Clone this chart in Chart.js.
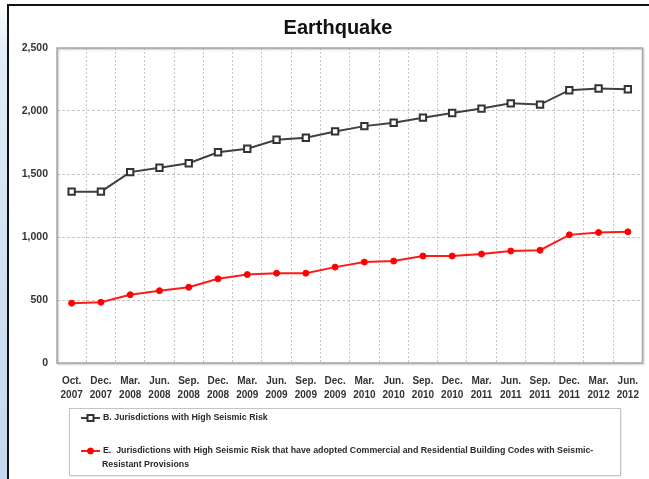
<!DOCTYPE html>
<html>
<head>
<meta charset="utf-8">
<title>Earthquake</title>
<script src="https://cdn.jsdelivr.net/npm/chart.js@4/dist/chart.umd.min.js"></script>
<style>
	html, body { margin: 0; padding: 0; background: #fff; }
	body { width: 649px; height: 479px; position: relative; overflow: hidden; }
	#strip { position: absolute; left: 0; top: 0; width: 8px; height: 479px;
		background: linear-gradient(to bottom, #ffffff 0%, #e3edf7 10%, #cfe0f1 60%, #c3d7ee 100%); }
	#frame { position: absolute; left: 7px; top: 4px; width: 642px; height: 475px;
		border-top: 2px solid #111; border-left: 2px solid #111; box-sizing: border-box; }
	#chart { position: absolute; left: 0; top: 0; }
</style>
</head>
<body>
<div id="strip"></div>
<div id="frame"></div>
<canvas id="chart" width="649" height="479"></canvas>
<script>
const chartTitle = "Earthquake";

const months = ["Oct.", "Dec.", "Mar.", "Jun.", "Sep.", "Dec.", "Mar.", "Jun.", "Sep.", "Dec.",
	"Mar.", "Jun.", "Sep.", "Dec.", "Mar.", "Jun.", "Sep.", "Dec.", "Mar.", "Jun."];
const years = ["2007", "2007", "2008", "2008", "2008", "2008", "2009", "2009", "2009", "2009",
	"2010", "2010", "2010", "2010", "2011", "2011", "2011", "2011", "2012", "2012"];

const highRisk = [1360, 1360, 1515, 1550, 1585, 1673, 1700, 1772, 1788, 1838,
	1880, 1907, 1947, 1984, 2019, 2061, 2051, 2165, 2179, 2173];
const withCodes = [475, 482, 542, 574, 601, 668, 702, 713, 713, 761,
	801, 809, 849, 849, 865, 889, 895, 1017, 1036, 1041];

const yTicks = [0, 500, 1000, 1500, 2000, 2500];

const labelHigh = "B. Jurisdictions with High Seismic Risk";
const labelCodes = "E.  Jurisdictions with High Seismic Risk that have adopted Commercial and Residential Building Codes with Seismic-Resistant Provisions";

Chart.defaults.font.family = "'Liberation Sans', Arial, sans-serif";

// title sits a little right of the canvas centre, as in the original
const titleText = {
	id: "titleText",
	afterDraw(chart) {
		const ctx = chart.ctx;
		ctx.save();
		ctx.font = "bold 20px 'Liberation Sans', Arial, sans-serif";
		ctx.fillStyle = "#111";
		ctx.textAlign = "center";
		ctx.textBaseline = "middle";
		ctx.fillText(chartTitle, 338, 28);
		ctx.restore();
	}
};

// solid frame round the plot area
const plotFrame = {
	id: "plotFrame",
	beforeDatasetsDraw(chart) {
		const { ctx, chartArea: a } = chart;
		ctx.save();
		ctx.shadowColor = "rgba(0,0,0,0.25)";
		ctx.shadowOffsetX = 1;
		ctx.shadowOffsetY = 1;
		ctx.shadowBlur = 2;
		ctx.strokeStyle = "#a9a9a9";
		ctx.lineWidth = 1.5;
		ctx.strokeRect(a.left, a.top, a.right - a.left, a.bottom - a.top);
		ctx.restore();
	}
};

// boxed legend under the axis, long labels wrapped
const boxLegend = {
	id: "boxLegend",
	afterDraw(chart) {
		const ctx = chart.ctx;
		const box = { x: 69, y: 408, w: 551, h: 67 };
		ctx.save();
		ctx.shadowColor = "rgba(0,0,0,0.2)";
		ctx.shadowOffsetX = 1;
		ctx.shadowOffsetY = 1;
		ctx.shadowBlur = 2;
		ctx.fillStyle = "#fff";
		ctx.fillRect(box.x, box.y, box.w, box.h);
		ctx.restore();
		ctx.save();
		ctx.strokeStyle = "#c4c4c4";
		ctx.lineWidth = 1;
		ctx.strokeRect(box.x + 0.5, box.y + 0.5, box.w, box.h);

		ctx.font = "bold 8.8px 'Liberation Sans', Arial, sans-serif";
		ctx.textBaseline = "middle";
		const rows = [418, 451];
		const textX = 103;
		const maxW = box.x + box.w - textX - 6;

		chart.data.datasets.forEach((ds, i) => {
			const y = rows[i];
			ctx.strokeStyle = ds.borderColor;
			ctx.lineWidth = 2;
			ctx.beginPath();
			ctx.moveTo(81, y);
			ctx.lineTo(100, y);
			ctx.stroke();
			ctx.fillStyle = ds.pointBackgroundColor;
			ctx.strokeStyle = ds.pointBorderColor;
			ctx.lineWidth = ds.pointBorderWidth;
			ctx.beginPath();
			if (ds.pointStyle === "rect") {
				ctx.rect(87.5, y - 3, 6, 6);
			} else {
				ctx.arc(90.5, y, 3, 0, Math.PI * 2);
			}
			ctx.fill();
			ctx.stroke();

			// word wrap, also after hyphens
			const words = ds.label.split(/(?<=[ -])/);
			const lines = [];
			let cur = "";
			words.forEach(w => {
				if (cur && ctx.measureText(cur + w).width > maxW) {
					lines.push(cur.trimEnd());
					cur = w;
				} else {
					cur += w;
				}
			});
			lines.push(cur);
			ctx.fillStyle = "#2a2a2a";
			lines.forEach((ln, j) => {
				ctx.fillText(ln, j === 0 ? textX : textX - 1, y + j * 14);
			});
		});
		ctx.restore();
	}
};

const ctx = document.getElementById("chart").getContext("2d");
new Chart(ctx, {
	type: "line",
	data: {
		labels: months.map((m, i) => [m, years[i]]),
		datasets: [{
			label: labelHigh,
			data: highRisk,
			borderColor: "#404040",
			borderWidth: 2,
			pointStyle: "rect",
			pointRadius: 4.5,
			pointBorderWidth: 2,
			pointBorderColor: "#333",
			pointBackgroundColor: "#fff",
			tension: 0
		}, {
			label: labelCodes,
			data: withCodes,
			borderColor: "#ff1a1a",
			borderWidth: 2,
			pointStyle: "circle",
			pointRadius: 3,
			pointBorderWidth: 1,
			pointBorderColor: "#ff0000",
			pointBackgroundColor: "#ff0000",
			tension: 0
		}]
	},
	options: {
		responsive: false,
		animation: false,
		devicePixelRatio: 1,
		layout: {
			padding: { left: 8, right: 2, top: 48, bottom: 76 }
		},
		plugins: {
			legend: { display: false },
			tooltip: { enabled: false },
			title: { display: false }
		},
		scales: {
			x: {
				offset: true,
				grid: {
					offset: true,
					color: "#c6c6c6",
					lineWidth: 1,
					drawTicks: false,
					borderDash: [2, 2]
				},
				border: { display: false, dash: [2, 2] },
				ticks: {
					autoSkip: false,
					maxRotation: 0,
					minRotation: 0,
					padding: 12,
					color: "#333",
					font: { size: 10, weight: "bold", lineHeight: 1.33 }
				},
				afterFit(scale) {
					scale.height = 40;
					scale.paddingLeft = 0;
					scale.paddingRight = 0;
				}
			},
			y: {
				min: yTicks[0],
				max: yTicks[yTicks.length - 1],
				afterBuildTicks(scale) { scale.ticks = yTicks.map(v => ({ value: v })); },
				grid: {
					color: "#c6c6c6",
					lineWidth: 1,
					drawTicks: false,
					borderDash: [3, 2]
				},
				border: { display: false, dash: [3, 2] },
				ticks: {
					padding: 9,
					color: "#333",
					font: { size: 10.5, weight: "bold" },
					callback: v => v.toLocaleString("en-US")
				},
				afterFit(scale) {
					scale.width = 49;
					scale.paddingTop = 0;
					scale.paddingBottom = 0;
				}
			}
		}
	},
	plugins: [plotFrame, boxLegend, titleText]
});
</script>
</body>
</html>
